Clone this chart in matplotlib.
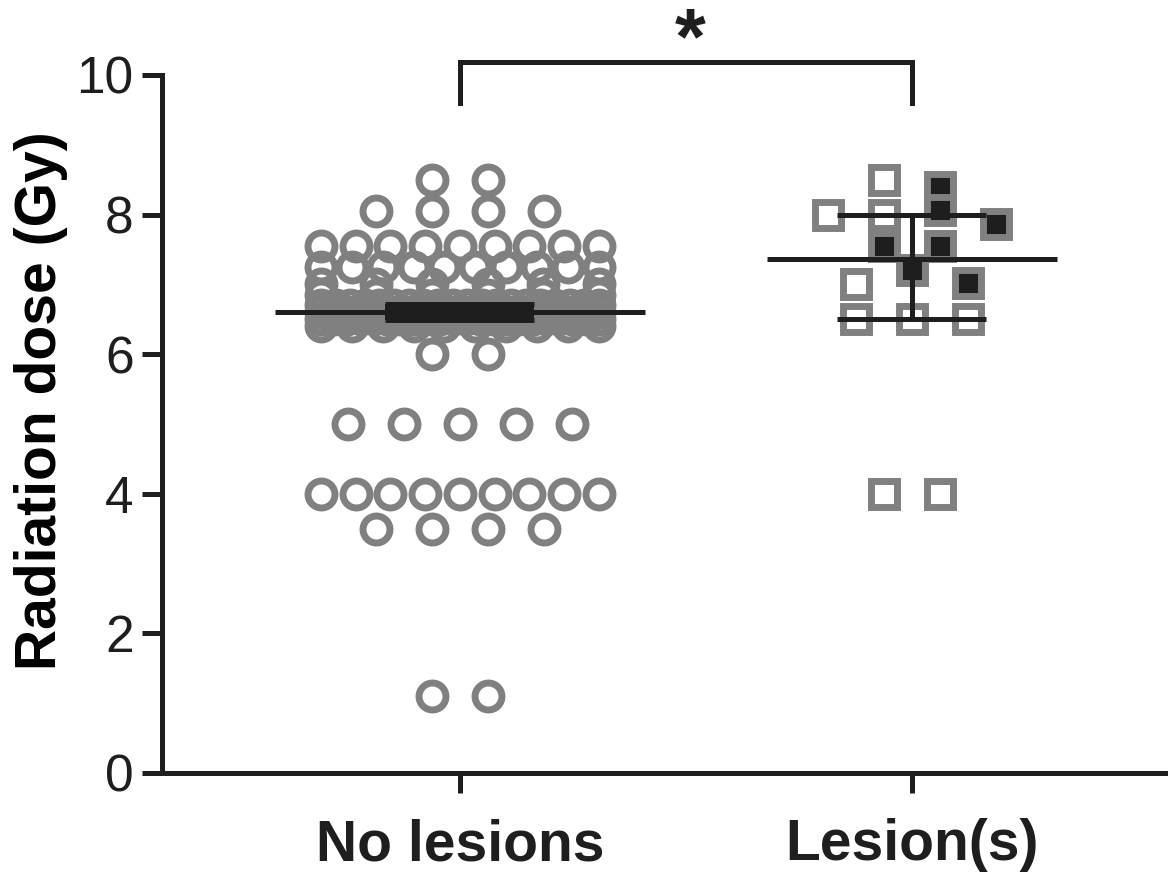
import numpy as np
import matplotlib
matplotlib.use("Agg")
import matplotlib.pyplot as plt

plt.rcParams["mathtext.fontset"] = "custom"
plt.rcParams["mathtext.bf"] = "Liberation Sans:bold"
plt.rcParams["mathtext.rm"] = "Liberation Sans"

# data
groups = ["No lesions", "Lesion(s)"]

# no lesions: dose levels and how many patients sit on each level
nolesion_levels = [8.5, 8.05, 7.55, 7.25, 7.0, 6.85, 6.7, 6.6, 6.5, 6.4, 6.0, 5.0, 4.0, 3.5, 1.1]
nolesion_counts = [2, 4, 9, 10, 6, 6, 20, 24, 22, 10, 2, 5, 9, 4, 2]

# lesion group: open squares and filled squares
lesion_open = [8.5, 8.0, 8.0, 7.0, 6.5, 6.5, 6.5, 4.0, 4.0]
lesion_filled = [8.4, 8.07, 7.87, 7.55, 7.55, 7.2, 7.02]

# median and interquartile range per group
medians = [6.6, 7.37]
q1 = [6.49, 6.5]
q3 = [6.72, 8.0]

grey = "#808080"
dark = "#1e1e1e"


def row_offsets(values, bin_size, step, width):
    # lay out points of one column in horizontal rows, like a column scatter
    values = np.asarray(values, dtype=float)
    keys = np.round(values / bin_size).astype(int)
    offs = np.zeros(len(values))
    for k in np.unique(keys):
        idx = np.where(keys == k)[0]
        n = len(idx)
        s = step if n < 2 else min(step, width / (n - 1))
        offs[idx] = (np.arange(n) - (n - 1) / 2.0) * s
    return offs


fig = plt.figure(figsize=(11.68, 8.84), dpi=100)
ax = fig.add_axes([162 / 1168, 111 / 884, (1165 - 162) / 1168, (773 - 75) / 884])

step = 0.124
width = 0.615

# no lesions circles
nl = np.repeat(nolesion_levels, nolesion_counts)
nl_x = 0 + row_offsets(nl, 0.05, step, width)
ax.plot(nl_x, nl, "o", ms=19.4, mew=5.0, mfc="none", mec=grey, zorder=2)

# lesion squares
ls = np.array(lesion_open + lesion_filled)
ls_x = 1 + row_offsets(ls, 0.5, step, width)
n_open = len(lesion_open)
ax.plot(ls_x[:n_open], ls[:n_open], "s", ms=19.4, mew=5.0, mfc="none", mec=grey, zorder=2)
ax.plot(ls_x[n_open:], ls[n_open:], "s", ms=19.4, mew=5.0, mfc=dark, mec=grey, zorder=2)

# median line and IQR whiskers
med_half = [0.41, 0.32]
cap_half = 0.165
for i in range(len(groups)):
    ax.plot([i - med_half[i], i + med_half[i]], [medians[i]] * 2, color=dark, lw=3.6,
            solid_capstyle="butt", zorder=3)
    ax.plot([i - cap_half, i + cap_half], [q1[i]] * 2, color=dark, lw=3.6,
            solid_capstyle="butt", zorder=3)
    ax.plot([i - cap_half, i + cap_half], [q3[i]] * 2, color=dark, lw=3.6,
            solid_capstyle="butt", zorder=3)
    ax.plot([i, i], [q1[i], q3[i]], color=dark, lw=3.6, zorder=3)
    if q3[i] - q1[i] < 0.5:
        # whiskers this close merge into one solid block
        ax.bar(i, q3[i] - q1[i], bottom=q1[i], width=2 * cap_half, color=dark, zorder=3)

# significance bracket
ax.plot([0, 0, 1, 1], [9.6, 10.19, 10.19, 9.6], color=dark, lw=3.6, clip_on=False,
        solid_joinstyle="miter")
ax.text(0.51, 10.5, r"$\mathbf{*}$", ha="center", va="center", fontsize=57, color=dark)

ax.set_xlim(-0.659, 1.56)
ax.set_ylim(0, 10)
ax.set_yticks([0, 2, 4, 6, 8, 10])
ax.set_xticks([0, 1])
ax.set_xticklabels(groups, family=["Liberation Sans Narrow", "Liberation Sans"],
                   fontweight="bold", fontsize=41)
for lab in ax.get_yticklabels():
    lab.set_family("Liberation Sans")
    lab.set_fontsize(37)
ax.set_ylabel("Radiation dose (Gy)", family=["Liberation Sans Narrow", "Liberation Sans"],
              fontweight="bold", fontsize=41)
ax.yaxis.set_label_coords(-0.094, 0.533)

for side in ["top", "right"]:
    ax.spines[side].set_visible(False)
for side in ["left", "bottom"]:
    ax.spines[side].set_linewidth(3.6)
    ax.spines[side].set_color(dark)
ax.tick_params(axis="both", width=3.6, length=14.5, color=dark, labelcolor=dark)
ax.tick_params(axis="x", pad=18)
ax.tick_params(axis="y", pad=6)

fig.savefig("out.png", dpi=100)
